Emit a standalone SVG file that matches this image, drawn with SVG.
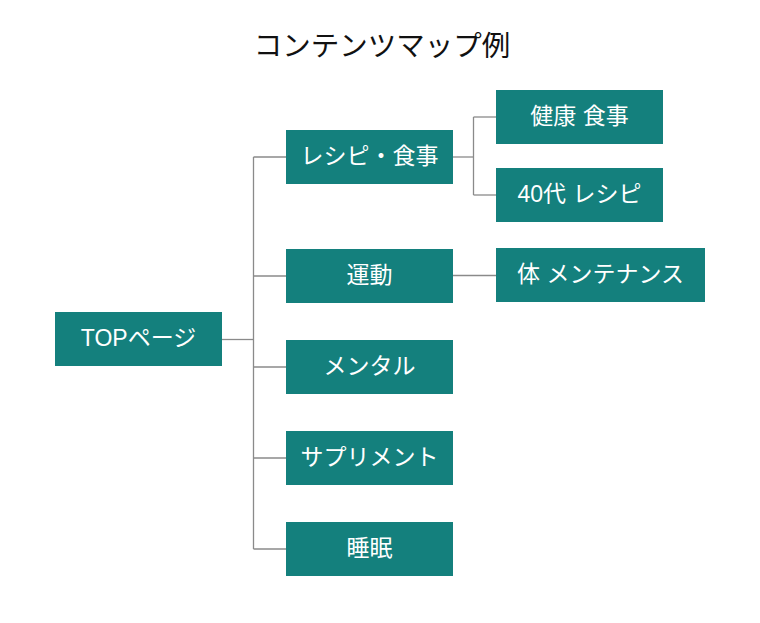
<svg xmlns="http://www.w3.org/2000/svg" width="760" height="623" viewBox="0 0 760 623">
<style>
.box{fill:#14807d}
.lbl{fill:#ffffff;font-family:"Liberation Sans","Noto Sans CJK JP",sans-serif;font-size:23px;text-anchor:middle;dominant-baseline:central}
.ttl{fill:#111;font-family:"Liberation Sans","Noto Sans CJK JP",sans-serif;font-size:28.5px;text-anchor:middle;dominant-baseline:central}
.ln{fill:none;stroke:#8a8a8a;stroke-width:1.3}
</style>
<rect width="760" height="623" fill="#ffffff"/>
<text class="ttl" x="382" y="46">コンテンツマップ例</text>
<g id="connectors">
<path class="ln" d="M222,339.5 H253.5"/>
<path class="ln" d="M253.5,157 V549"/>
<path class="ln" d="M253.5,157 H286"/>
<path class="ln" d="M253.5,276 H286"/>
<path class="ln" d="M253.5,367 H286"/>
<path class="ln" d="M253.5,458 H286"/>
<path class="ln" d="M253.5,549 H286"/>
<path class="ln" d="M453,157 H473.5"/>
<path class="ln" d="M473.5,117 V195"/>
<path class="ln" d="M473.5,117 H496"/>
<path class="ln" d="M473.5,195 H496"/>
<path class="ln" d="M453,275.5 H496"/>
</g>
<g id="top"><rect class="box" x="55" y="312" width="167" height="54"/><text class="lbl" x="138.5" y="338">TOPページ</text></g>
<g id="recipe"><rect class="box" x="286" y="130" width="167" height="54"/><text class="lbl" x="369.5" y="156">レシピ・食事</text></g>
<g id="undou"><rect class="box" x="286" y="249" width="167" height="54"/><text class="lbl" x="369.5" y="275">運動</text></g>
<g id="mental"><rect class="box" x="286" y="340" width="167" height="54"/><text class="lbl" x="369.5" y="366">メンタル</text></g>
<g id="supplement"><rect class="box" x="286" y="431" width="167" height="54"/><text class="lbl" x="369.5" y="457">サプリメント</text></g>
<g id="suimin"><rect class="box" x="286" y="522" width="167" height="54"/><text class="lbl" x="369.5" y="548">睡眠</text></g>
<g id="kenkou"><rect class="box" x="496" y="90" width="167" height="54"/><text class="lbl" x="579.5" y="116">健康 食事</text></g>
<g id="recipe40"><rect class="box" x="496" y="168" width="167" height="54"/><text class="lbl" x="579.5" y="194">40代 レシピ</text></g>
<g id="karada"><rect class="box" x="496" y="248" width="209" height="54"/><text class="lbl" x="600.5" y="274">体 メンテナンス</text></g>
</svg>
